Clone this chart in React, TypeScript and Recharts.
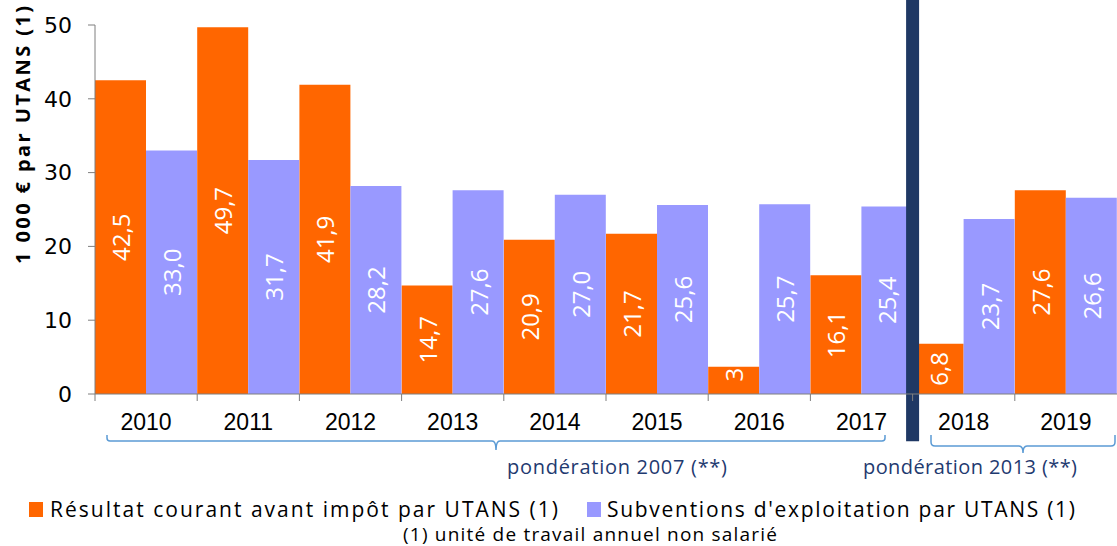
import React from 'react';
import { BarChart, Bar, XAxis, YAxis, LabelList, ReferenceLine } from 'recharts';

const years = ['2010', '2011', '2012', '2013', '2014', '2015', '2016', '2017', '2018', '2019'];
const resultat = [42.5, 49.7, 41.9, 14.7, 20.9, 21.7, 3.7, 16.1, 6.8, 27.6];
const subventions = [33.0, 31.7, 28.2, 27.6, 27.0, 25.6, 25.7, 25.4, 23.7, 26.6];
const yTicks = [0, 10, 20, 30, 40, 50];

const seriesNames = ['Résultat courant avant impôt par UTANS (1)', "Subventions d'exploitation par UTANS (1)"];
const colors = ['#FF6600', '#9999FF'];

const data = years.map((y, i) => ({ year: y, resultat: resultat[i], subventions: subventions[i] }));

const SANS = "'Open Sans', 'Noto Sans', sans-serif";
const ARIAL = "'Liberation Sans', Arial, sans-serif";
const WIDE = "'DejaVu Sans', 'Open Sans', sans-serif";

const fmt = (v: number) => v.toFixed(1).replace('.', ',');

const BarLabel = (props: any) => {
  const { x, y, width, height, value } = props;
  const cx = x + width / 2;
  const fontSize = 24;
  const txt = fmt(value);
  const approxLen = txt.length * fontSize * 0.5;
  if (height < approxLen) {
    const short = String(Math.floor(value));
    return (
      <text x={cx} y={y + 1} transform={`rotate(-90 ${cx} ${y + 1})`} textAnchor="end" dominantBaseline="central"
        fill="#fff" fontFamily={SANS} fontSize={fontSize}>{short}</text>
    );
  }
  const cy = y + height / 2;
  return (
    <text x={cx} y={cy} transform={`rotate(-90 ${cx} ${cy})`} textAnchor="middle" dominantBaseline="central"
      fill="#fff" fontFamily={SANS} fontSize={fontSize}>{txt}</text>
  );
};

const XTick = (props: any) => {
  const { x, y, payload } = props;
  const off = payload && typeof payload.offset === 'number' && payload.offset > 0 ? payload.offset : 51.1;
  const lx = x - off;
  return (
    <g>
      <line x1={lx} y1={y} x2={lx} y2={y + 7} stroke="#7f7f7f" strokeWidth={1} />
      <text x={x} y={y + 36} textAnchor="middle" fill="#000" fontFamily={ARIAL} fontSize={23}>{payload.value}</text>
    </g>
  );
};

export default function App() {
  return (
    <div style={{ position: 'absolute', left: 0, top: 0, width: 1117, height: 546, background: '#fff' }}>
      <BarChart width={1117} height={546} data={data} margin={{ top: 25, right: 0, bottom: 102, left: 0 }}
        barCategoryGap={0} barGap={0}>
        <XAxis dataKey="year" height={50} tickLine={false} tickSize={0} tickMargin={0} interval={0}
          axisLine={{ stroke: '#7f7f7f', strokeWidth: 1 }} tick={<XTick />} />
        <YAxis width={95} domain={[0, 50]} ticks={yTicks} tickSize={7} tickMargin={16}
          axisLine={{ stroke: '#7f7f7f', strokeWidth: 1 }} tickLine={{ stroke: '#7f7f7f' }}
          tick={{ fill: '#000', fontFamily: WIDE, fontSize: 22 }} />
        <Bar dataKey="resultat" name={seriesNames[0]} fill={colors[0]} isAnimationActive={false}>
          <LabelList dataKey="resultat" content={<BarLabel />} />
        </Bar>
        <Bar dataKey="subventions" name={seriesNames[1]} fill={colors[1]} isAnimationActive={false}>
          <LabelList dataKey="subventions" content={<BarLabel />} />
        </Bar>
        <ReferenceLine segment={[{ x: '2018', y: 53.4 }, { x: '2018', y: -6.4 }]} position="start"
          ifOverflow="visible" stroke="#1F3864" strokeWidth={13} />
      </BarChart>
      <svg width={1117} height={546} style={{ position: 'absolute', left: 0, top: 0, pointerEvents: 'none' }}>
        <text x={22} y={135} transform="rotate(-90 22 135)" textAnchor="middle" dominantBaseline="central"
          fontFamily={SANS} fontWeight={700} fontSize={20} fill="#000" textLength={258} lengthAdjust="spacing">1 000 € par UTANS (1)</text>
        <path d="M107,435 L107,438 Q107,441 110,441 L492,441 Q496,441 496,450 Q496,441 500,441 L882,441 Q885,441 885,438 L885,435"
          fill="none" stroke="#5B9BD5" strokeWidth={1.5} />
        <path d="M931,435 L931,442 Q931,446 935,446 L1019,446 Q1023,446 1023,453 Q1023,446 1027,446 L1111,446 Q1115,446 1115,442 L1115,435"
          fill="none" stroke="#5B9BD5" strokeWidth={1.5} />
        <text x={507} y={474} fontFamily={SANS} fontSize={20} fill="#1F3A70" textLength={220} lengthAdjust="spacing">pondération 2007 (**)</text>
        <text x={863} y={474} fontFamily={SANS} fontSize={20} fill="#1F3A70" textLength={214} lengthAdjust="spacing">pondération 2013 (**)</text>
        <rect x={29} y={502} width={14} height={15} fill={colors[0]} />
        <text x={50} y={517} fontFamily={SANS} fontSize={21} fill="#000" textLength={508} lengthAdjust="spacing">{seriesNames[0]}</text>
        <rect x={587} y={502} width={14} height={15} fill={colors[1]} />
        <text x={607} y={517} fontFamily={SANS} fontSize={21} fill="#000" textLength={468} lengthAdjust="spacing">{seriesNames[1]}</text>
        <text x={403} y={541} fontFamily={SANS} fontSize={19} fill="#000" textLength={374} lengthAdjust="spacing">(1) unité de travail annuel non salarié</text>
      </svg>
    </div>
  );
}
